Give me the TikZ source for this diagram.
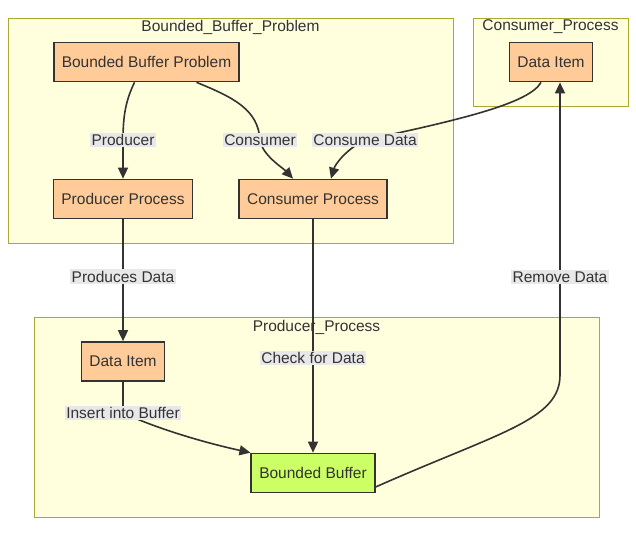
\documentclass[tikz,border=0pt]{standalone}
\usepackage{fontspec}
\setmainfont{Liberation Sans}
\usetikzlibrary{positioning,arrows.meta,calc}
\definecolor{clfill}{HTML}{FFFFDE}
\definecolor{cldraw}{HTML}{AAAA33}
\definecolor{peach}{HTML}{FFCC99}
\definecolor{lime}{HTML}{CCFF66}
\definecolor{lblbg}{HTML}{E8E8E8}
\definecolor{ink}{HTML}{333333}
\tikzstyle{cluster}=[rectangle, draw=cldraw, fill=clfill, line width=0.9pt]
\tikzstyle{cltitle}=[font=\fontsize{15.5}{17}\selectfont, text=ink, inner sep=0pt]
\tikzstyle{pbox}=[rectangle, draw=ink, fill=peach, line width=1.7pt, minimum height=39pt, inner xsep=8pt, font=\fontsize{15.5}{17}\selectfont, text=ink]
\tikzstyle{bbox}=[pbox, fill=lime]
\tikzstyle{lbl}=[fill=lblbg, inner sep=1.5pt, font=\fontsize{15.5}{17}\selectfont, text=ink]
\tikzstyle{arr}=[-{Triangle[length=11pt,width=10pt]}, line width=1.6pt, draw=ink]

\begin{document}
\begin{tikzpicture}[x=1pt,y=-1pt]
    \useasboundingbox (0,0) rectangle (636,536);

%clusters
    \node (bbpc) [cluster, minimum width=445pt, minimum height=225pt] at (230.5,130.5) {};
    \node (cpc) [cluster, minimum width=155pt, minimum height=88pt] at (550.5,62) {};
    \node (ppc) [cluster, minimum width=565pt, minimum height=200pt] at (316.5,417) {};
    \node (bbpt) [cltitle] at (230.5,27) {Bounded\_Buffer\_Problem};
    \node (cpt) [cltitle] at (550.5,27) {Consumer\_Process};
    \node (ppt) [cltitle] at (316.5,327) {Producer\_Process};

%nodes
    \node (bbp) [pbox] at (146.5,62) {Bounded Buffer Problem};
    \node (pp) [pbox] at (123,199) {Producer Process};
    \node (cp) [pbox] at (313,199) {Consumer Process};
    \node (dic) [pbox] at (551,62) {Data Item};
    \node (dip) [pbox] at (123,361.5) {Data Item};
    \node (bb) [bbox] at (313,473) {Bounded Buffer};

%edges
    \draw[arr] ([xshift=-12pt]bbp.south) .. controls (126,100) and (123,115) .. (123,140)
        node[lbl] {Producer} -- (pp.north);
    \draw[arr] ([xshift=50pt]bbp.south) .. controls (235,98) and (258,110) .. (260,140)
        node[lbl] {Consumer} .. controls (262,155) and (283,168) .. ([xshift=-20pt]cp.north);
    \draw[arr] ([xshift=-10pt]dic.south) .. controls (530,102) and (470,118) .. (365,140)
        node[lbl] {Consume Data} .. controls (345,150) and (335,165) .. ([xshift=18pt]cp.north);
    \draw[arr] (pp) -- node[lbl, pos=0.47] {Produces Data} (dip);
    \draw[arr] (cp) -- node[lbl, pos=0.594] {Check for Data} (bb);
    \draw[arr] (dip.south) .. controls (123,400) and (123,405) .. (123,413)
        node[lbl] {Insert into Buffer} .. controls (165,432) and (215,445) .. (bb.north west);
    \draw[arr] ([yshift=-14pt]bb.east) .. controls (500,432) and (560,420) .. (560,375)
        -- (560,277) node[lbl] {Remove Data} -- ([xshift=9pt]dic.south);

\end{tikzpicture}
\end{document}
